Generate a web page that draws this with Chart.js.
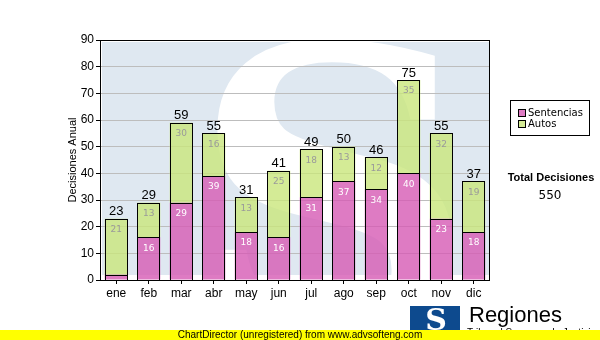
<!DOCTYPE html>
<html>
<head>
<meta charset="utf-8">
<script src="https://cdn.jsdelivr.net/npm/chart.js@4.4.0/dist/chart.umd.min.js"></script>
<style>
  html, body { margin:0; padding:0; background:#fff; }
  #wrap { width:600px; height:340px; position:relative; }
</style>
</head>
<body>
<div id="wrap"><canvas id="c" width="600" height="340"></canvas></div>
<script>
const MONTHS = ['ene','feb','mar','abr','may','jun','jul','ago','sep','oct','nov','dic'];
const SENTENCIAS = [2, 16, 29, 39, 18, 16, 31, 37, 34, 40, 23, 18];
const AUTOS = [21, 13, 30, 16, 13, 25, 18, 13, 12, 35, 32, 19];
const Y_TICKS = [0, 10, 20, 30, 40, 50, 60, 70, 80, 90];
const TOTAL_LABEL = 'Total Decisiones';

const PINK = 'rgba(214,90,180,0.8)';
const GREEN = 'rgba(201,230,124,0.8)';
const SANS = '"Liberation Sans", Arial, sans-serif';
const VERD = '"DejaVu Sans", Verdana, sans-serif';

const totals = MONTHS.map((m,i) => SENTENCIAS[i] + AUTOS[i]);
const grandTotal = totals.reduce((s,v)=>s+v,0);

// light blue "S" watermark behind the plot
const watermark = {
  id:'watermark',
  beforeDraw(chart){
    const {ctx, chartArea:a} = chart;
    ctx.save();
    ctx.fillStyle = '#fff';
    ctx.fillRect(0,0,chart.width,chart.height);
    ctx.beginPath();
    ctx.rect(a.left+2, a.top+2, a.right-a.left-2, a.bottom-a.top-7);
    ctx.clip();
    ctx.fillStyle = '#dfe8f1';
    ctx.fillRect(a.left, a.top, a.right-a.left, a.bottom-a.top);
    ctx.fillStyle = '#fff';
    ctx.font = 'bold 395px "DejaVu Serif", serif';
    ctx.textAlign = 'center';
    ctx.textBaseline = 'alphabetic';
    ctx.fillText('S', 334, 332);
    ctx.restore();
  }
};

// crisp outlines, labels in segments, totals on top, frame, legend and footer
const extras = {
  id:'extras',
  afterDatasetsDraw(chart){
    const {ctx, chartArea:a} = chart;
    const y = chart.scales.y;
    ctx.save();
    ctx.strokeStyle = '#000';
    ctx.lineWidth = 1;
    [0,1].forEach(d => {
      chart.getDatasetMeta(d).data.forEach(b => {
        const l = Math.round(b.x - b.width/2) + 0.5;
        const r = Math.round(b.x + b.width/2) - 0.5;
        const t = Math.round(b.y) + 0.5;
        const bt = Math.round(b.base) + 0.5;
        ctx.strokeRect(l, t, r-l, bt-t);
      });
    });
    ctx.strokeRect(a.left+0.5, a.top+0.5, a.right-a.left-1, a.bottom-a.top);

    ctx.textAlign = 'center';
    ctx.textBaseline = 'middle';
    const m0 = chart.getDatasetMeta(0).data;
    MONTHS.forEach((m,i) => {
      const x = m0[i].x;
      ctx.font = '9px ' + VERD;
      if (SENTENCIAS[i] >= 5){
        ctx.fillStyle = '#fff';
        ctx.fillText(String(SENTENCIAS[i]), x, y.getPixelForValue(SENTENCIAS[i]) + 11);
      }
      ctx.fillStyle = '#9a9a9a';
      ctx.fillText(String(AUTOS[i]), x, y.getPixelForValue(totals[i]) + 11);
      ctx.font = '13px ' + SANS;
      ctx.fillStyle = '#000';
      ctx.fillText(String(totals[i]), x, y.getPixelForValue(totals[i]) - 7);
    });
    ctx.restore();
  },
  afterDraw(chart){
    const {ctx} = chart;
    ctx.save();
    // legend box
    ctx.strokeStyle = '#000';
    ctx.lineWidth = 1;
    ctx.strokeRect(510.5, 100.5, 79, 35);
    const items = [['Sentencias', PINK], ['Autos', GREEN]];
    items.forEach(([t,c],k) => {
      const yy = 113 + k*11;
      ctx.fillStyle = '#fff';
      ctx.fillRect(518, yy-4, 8, 8);
      ctx.fillStyle = c;
      ctx.fillRect(518, yy-4, 8, 8);
      ctx.strokeStyle = '#000';
      ctx.strokeRect(518.5, yy-3.5, 7, 7);
      ctx.fillStyle = '#000';
      ctx.font = '10px ' + VERD;
      ctx.textAlign = 'left';
      ctx.textBaseline = 'middle';
      ctx.fillText(t, 528, yy);
    });
    ctx.textAlign = 'center';
    ctx.font = 'bold 11px ' + SANS;
    ctx.fillText(TOTAL_LABEL, 551, 178);
    ctx.font = '12px ' + VERD;
    ctx.fillText(String(grandTotal), 550, 196);

    // logo at bottom
    ctx.fillStyle = '#0d4a8e';
    ctx.fillRect(410, 306, 50, 26);
    ctx.fillStyle = '#fff';
    ctx.font = 'bold 30px "DejaVu Serif", serif';
    ctx.fillText('S', 436, 322);
    ctx.fillStyle = '#000';
    ctx.font = '22px ' + SANS;
    ctx.textAlign = 'left';
    ctx.fillText('Regiones', 469, 316);
    ctx.font = '10px ' + SANS;
    ctx.fillText('Tribunal Supremo de Justicia', 467, 333);

    // yellow footer band
    ctx.fillStyle = '#ffff00';
    ctx.fillRect(0, 330, 600, 10);
    ctx.fillStyle = '#000';
    ctx.font = '10px ' + SANS;
    ctx.textAlign = 'center';
    ctx.fillText('ChartDirector (unregistered) from www.advsofteng.com', 300, 335);
    ctx.restore();
  }
};

new Chart(document.getElementById('c'), {
  type:'bar',
  data:{
    labels: MONTHS,
    datasets:[
      { label:'Sentencias', data:SENTENCIAS, backgroundColor:PINK, borderWidth:0 },
      { label:'Autos', data:AUTOS, backgroundColor:GREEN, borderWidth:0 },
    ]
  },
  options:{
    responsive:false, animation:false,
    layout:{ padding:{ left:62, top:40, right:110, bottom:40 } },
    barPercentage:0.71, categoryPercentage:1,
    plugins:{ legend:{display:false}, tooltip:{enabled:false} },
    scales:{
      x:{
        stacked:true,
        afterFit: s => { s.height = 20; },
        grid:{ offset:false, drawOnChartArea:false, tickLength:4, color:'#000' },
        border:{ display:false },
        ticks:{ color:'#000', padding:2, font:{ family:SANS, size:12 } }
      },
      y:{
        stacked:true, min:0, max:90,
        afterFit: s => { s.width = 38; },
        afterBuildTicks: s => { s.ticks = Y_TICKS.map(v => ({value:v})); },
        grid:{ color:'#bdbdbd', tickColor:'#000', tickLength:4 },
        border:{ display:false },
        ticks:{ color:'#000', padding:2, font:{ family:SANS, size:12 } },
        title:{ display:true, text:'Decisiones Anual', color:'#000', font:{ family:SANS, size:11 } }
      }
    }
  },
  plugins:[watermark, extras]
});
</script>
</body>
</html>
